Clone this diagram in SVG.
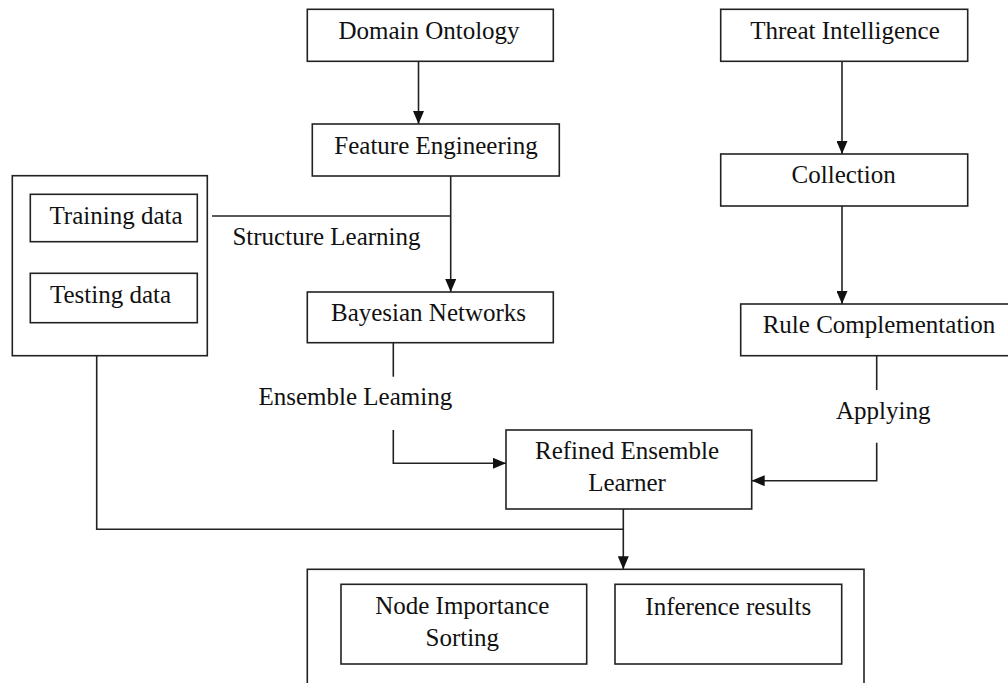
<svg xmlns="http://www.w3.org/2000/svg" width="1008" height="683" viewBox="0 0 1008 683">
  <style>
    .box { fill: #ffffff; stroke: #222222; stroke-width: 1.6; }
    .conn { fill: none; stroke: #222222; stroke-width: 1.6; }
    .t { font-family: "Liberation Serif", "Times New Roman", serif; font-size: 25px; fill: #111111; text-anchor: middle; }
  </style>
  <defs>
    <marker id="arrow" viewBox="0 0 13 11" refX="13" refY="5.5" markerWidth="13" markerHeight="11" orient="auto" markerUnits="userSpaceOnUse">
      <path d="M0,0 L13,5.5 L0,11 z" fill="#111111"/>
    </marker>
  </defs>
  <rect width="1008" height="683" fill="#ffffff"/>

  <g id="connectors">
    <line class="conn" x1="418.5" y1="61.3" x2="418.5" y2="124" marker-end="url(#arrow)"/>
    <line class="conn" x1="450.7" y1="176" x2="450.7" y2="292" marker-end="url(#arrow)"/>
    <line class="conn" x1="212" y1="216" x2="450.7" y2="216"/>
    <line class="conn" x1="842" y1="61.3" x2="842" y2="154" marker-end="url(#arrow)"/>
    <line class="conn" x1="842" y1="206" x2="842" y2="304" marker-end="url(#arrow)"/>
    <line class="conn" x1="393.3" y1="342.7" x2="393.3" y2="376.7"/>
    <path class="conn" d="M393.3 430 V463.3 H506" marker-end="url(#arrow)"/>
    <line class="conn" x1="876.7" y1="355.7" x2="876.7" y2="390"/>
    <path class="conn" d="M876.7 442.7 V480.7 H751.7" marker-end="url(#arrow)"/>
    <path class="conn" d="M96.7 355.7 V529.3 H623.3"/>
    <line class="conn" x1="623.3" y1="509" x2="623.3" y2="569.3" marker-end="url(#arrow)"/>
    <text class="t" x="326.5" y="245">Structure Learning</text>
    <text class="t" x="355.3" y="405">Ensemble Leaming</text>
    <text class="t" x="883.3" y="419.3">Applying</text>
  </g>

  <g id="domain-ontology">
    <rect class="box" x="307.3" y="9.3" width="246" height="52"/>
    <text class="t" x="429" y="39.3">Domain Ontology</text>
  </g>
  <g id="feature-engineering">
    <rect class="box" x="312.3" y="124" width="247" height="52"/>
    <text class="t" x="436" y="154">Feature Engineering</text>
  </g>
  <g id="data-group">
    <rect class="box" x="12.3" y="175.7" width="195" height="180"/>
  </g>
  <g id="training-data">
    <rect class="box" x="30.3" y="194.3" width="167" height="47.4"/>
    <text class="t" x="116" y="224">Training data</text>
  </g>
  <g id="testing-data">
    <rect class="box" x="30.3" y="273.3" width="167" height="49.4"/>
    <text class="t" x="110.5" y="302.7">Testing data</text>
  </g>
  <g id="bayesian-networks">
    <rect class="box" x="307.3" y="292" width="246" height="50.7"/>
    <text class="t" x="428.5" y="321">Bayesian Networks</text>
  </g>
  <g id="threat-intelligence">
    <rect class="box" x="720.7" y="9.3" width="247" height="52"/>
    <text class="t" x="845" y="39.3">Threat Intelligence</text>
  </g>
  <g id="collection">
    <rect class="box" x="720.7" y="154" width="247" height="52"/>
    <text class="t" x="843.7" y="183.3">Collection</text>
  </g>
  <g id="rule-complementation">
    <rect class="box" x="740.7" y="304" width="276" height="51.7"/>
    <text class="t" x="879" y="333.3">Rule Complementation</text>
  </g>
  <g id="refined-ensemble-learner">
    <rect class="box" x="506" y="430" width="245.7" height="79"/>
    <text class="t" x="627" y="459.3">Refined Ensemble</text>
    <text class="t" x="627" y="490.7">Learner</text>
  </g>
  <g id="results-group">
    <rect class="box" x="307.3" y="569.3" width="556.7" height="130"/>
  </g>
  <g id="node-importance-sorting">
    <rect class="box" x="341" y="584.3" width="245.7" height="79.7"/>
    <text class="t" x="462.3" y="614.3">Node Importance</text>
    <text class="t" x="462.3" y="646">Sorting</text>
  </g>
  <g id="inference-results">
    <rect class="box" x="615" y="584.3" width="226.7" height="79.7"/>
    <text class="t" x="728.3" y="615">Inference results</text>
  </g>
</svg>
